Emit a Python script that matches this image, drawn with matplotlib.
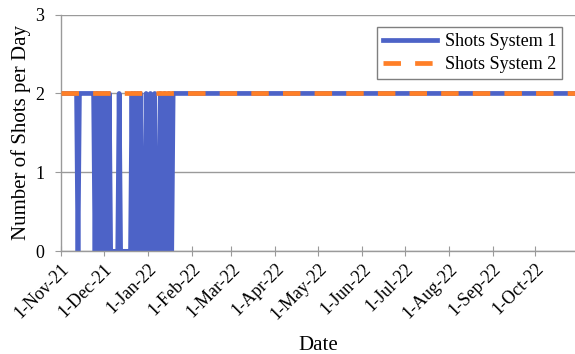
import matplotlib
matplotlib.use('Agg')
import matplotlib.pyplot as plt
import matplotlib.dates as mdates
import pandas as pd

# Shots per day, System 1, daily from 1-Nov-21
sys1_start = '2021-11-01'
sys1_daily = [2, 2, 2, 2, 2, 2, 2, 2, 2, 2, 2, 2, 0, 2, 2, 2, 2, 2, 2, 2,
              2, 2, 2, 2, 0, 2, 2, 0, 2, 0, 2, 0, 2, 0, 2, 0, 0, 0, 0, 0,
              0, 2, 0, 0, 0, 0, 0, 0, 0, 0, 2, 0, 2, 0, 2, 0, 2, 0, 0, 0,
              2, 0, 0, 2, 0, 0, 2, 0, 0, 0, 2, 0, 0, 2, 0, 0, 2, 0, 0, 2]
sys1_end = ('2022-10-31', 2)   # flat at 2 after the last daily value

# Shots per day, System 2 (constant)
sys2_dates = ['2021-11-01', '2022-10-31']
sys2_vals = [2, 2]

x_min, x_max = '2021-11-01', '2022-10-29'
y_ticks = [0, 1, 2, 3]

plt.rcParams['font.family'] = ['Liberation Serif', 'DejaVu Serif']
plt.rcParams['font.size'] = 13

fig = plt.figure(figsize=(5.75, 3.54), dpi=100)
ax = fig.add_axes([0.106, 0.29, 0.894, 0.669])

d1 = list(pd.date_range(sys1_start, periods=len(sys1_daily), freq='D'))
d1.append(pd.Timestamp(sys1_end[0]))
v1 = sys1_daily + [sys1_end[1]]

ax.plot(d1, v1, color='#4D63C7', lw=3.4, label='Shots System 1', zorder=2)
ax.plot(pd.to_datetime(sys2_dates), sys2_vals, color='#FF7F27', lw=3.4,
        dashes=(3.7, 3.0), label='Shots System 2', zorder=3)

ax.set_xlim(pd.Timestamp(x_min), pd.Timestamp(x_max))
ax.set_ylim(0, 3)
ax.set_yticks(y_ticks)

ax.xaxis.set_major_locator(mdates.MonthLocator())
ax.xaxis.set_major_formatter(mdates.DateFormatter('%-d-%b-%y'))
for lab in ax.get_xticklabels():
    lab.set_rotation(45)
    lab.set_ha('right')
    lab.set_rotation_mode('anchor')

ax.grid(axis='y', color='#9a9a9a', lw=1)
ax.set_axisbelow(True)
for s in ['top', 'right']:
    ax.spines[s].set_visible(False)
for s in ['left', 'bottom']:
    ax.spines[s].set_color('#9a9a9a')
    ax.spines[s].set_linewidth(1)
ax.tick_params(axis='x', direction='inout', length=7, color='#9a9a9a', pad=3)
ax.tick_params(axis='y', direction='out', length=4, color='#9a9a9a', pad=8)

ax.set_xlabel('Date', fontsize=15, labelpad=9)
ax.set_ylabel('Number of Shots per Day', fontsize=15, labelpad=3)

leg = ax.legend(loc='upper right', handlelength=3.0, handletextpad=0.4,
                fancybox=False, edgecolor='#7f7f7f', framealpha=1,
                borderaxespad=0.7, borderpad=0.35, labelspacing=0.3)
leg.get_frame().set_linewidth(1)

fig.savefig('out.png', dpi=100)
